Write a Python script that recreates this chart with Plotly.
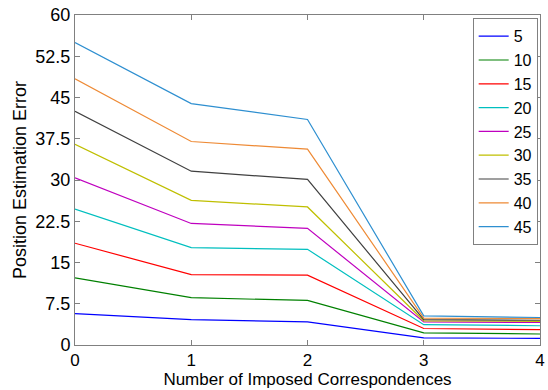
import plotly.graph_objects as go

x_vals = [0, 1, 2, 3, 4]
series_names = ["5", "10", "15", "20", "25", "30", "35", "40", "45"]
series_values = [
    [5.7, 4.6, 4.2, 1.3, 1.2],
    [12.2, 8.6, 8.1, 2.2, 2.0],
    [18.5, 12.8, 12.7, 3.0, 2.8],
    [24.7, 17.7, 17.4, 3.7, 3.5],
    [30.4, 22.1, 21.2, 4.2, 4.1],
    [36.5, 26.3, 25.1, 4.4, 4.3],
    [42.5, 31.6, 30.1, 4.6, 4.5],
    [48.4, 37.0, 35.6, 4.9, 4.8],
    [55.0, 43.9, 41.0, 5.3, 5.0],
]
colors = ["#0000FF", "#008000", "#FF0000", "#00BFBF", "#BF00BF",
          "#BFBF00", "#404040", "#EE8A35", "#2E8FD0"]
y_ticks = [0, 7.5, 15, 22.5, 30, 37.5, 45, 52.5, 60]
y_tick_text = ["0", "7.5", "15", "22.5", "30", "37.5", "45", "52.5", "60"]

fig = go.Figure()
for name, vals, c in zip(series_names, series_values, colors):
    fig.add_trace(go.Scatter(x=x_vals, y=vals, mode="lines", name=name,
                             line=dict(color=c, width=1.2)))

fam = "Liberation Sans, Arial, sans-serif"
tick_font_x = dict(family=fam, size=17, color="black")
tick_font_y = dict(family=fam, size=18, color="black")
title_font = dict(family=fam, size=18, color="black")
xtitle_font = dict(family=fam, size=17, color="black")
axis_common = dict(showgrid=False, zeroline=False, showline=True, linecolor="#808080",
                   linewidth=1, mirror="ticks", ticks="inside", ticklen=5,
                   tickcolor="#808080", automargin=False)
fig.update_layout(
    width=548, height=390,
    margin=dict(l=75, r=8, t=15, b=45),
    paper_bgcolor="white", plot_bgcolor="white",
    font=title_font,
    showlegend=True,
    legend=dict(x=0.995, y=0.99, xanchor="right", yanchor="top",
                bordercolor="#808080", borderwidth=1, bgcolor="white",
                font=dict(family=fam, size=16, color="black"),
                itemwidth=30, tracegroupgap=0),
)
fig.update_xaxes(range=[0, 4], tickvals=x_vals, ticktext=[str(v) for v in x_vals],
                 tickfont=tick_font_x,
                 title=dict(text="Number of Imposed Correspondences", font=xtitle_font, standoff=0),
                 **axis_common)
fig.update_yaxes(range=[0, 60], tickvals=y_ticks, ticktext=y_tick_text,
                 tickfont=tick_font_y,
                 title=dict(text="Position Estimation Error", font=title_font, standoff=4),
                 **axis_common)
fig.write_html("out.html")
